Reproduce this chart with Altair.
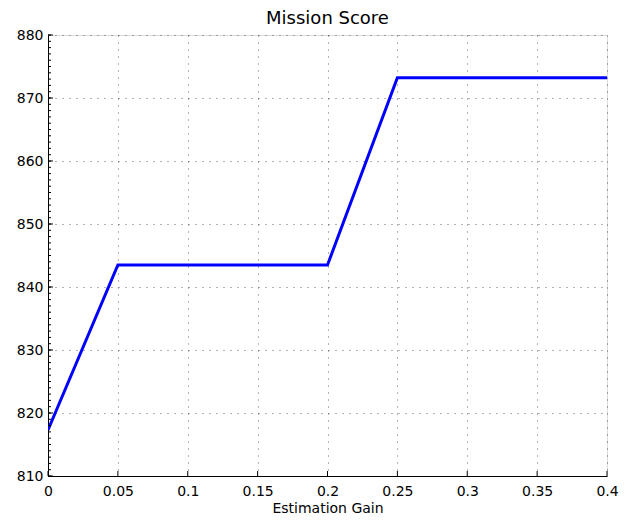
import altair as alt
import pandas as pd

gain = [0.0, 0.05, 0.1, 0.15, 0.2, 0.25, 0.3, 0.35, 0.4]
score = [817.3, 843.5, 843.5, 843.5, 843.5, 873.2, 873.2, 873.2, 873.2]
x_ticks = [0, 0.05, 0.1, 0.15, 0.2, 0.25, 0.3, 0.35, 0.4]
y_ticks = [810, 820, 830, 840, 850, 860, 870, 880]
y_minor = list(range(810, 881))

W, H = 559, 441
FONT = "DejaVu Sans"

df = pd.DataFrame({"gain": gain, "score": score})
xs = alt.Scale(domain=[0, 0.4], nice=False, zero=False)
ys = alt.Scale(domain=[810, 880], nice=False, zero=False)

xaxis = alt.Axis(values=x_ticks, title="Estimation Gain", grid=True, gridDash=[1, 6],
                 gridColor="#333333", gridOpacity=0.75, ticks=False, domainColor="black",
                 labelFont=FONT, labelFontSize=14, labelColor="black", labelPadding=8,
                 labelFlush=False,
                 titleFont=FONT, titleFontSize=14, titleFontWeight="normal", titleColor="black",
                 titlePadding=3, labelExpr="datum.value == 0 ? '0' : format(datum.value, '')")
yaxis = alt.Axis(values=y_ticks, title=None, grid=True, gridDash=[1, 6],
                 gridColor="#333333", gridOpacity=0.75, ticks=False, domainColor="black",
                 labelFont=FONT, labelFontSize=14, labelColor="black", labelPadding=5,
                 labelFlush=False)

line = alt.Chart(df).mark_line(color="#0000ff", strokeWidth=3, clip=True).encode(
    x=alt.X("gain:Q", scale=xs, axis=xaxis),
    y=alt.Y("score:Q", scale=ys, axis=yaxis),
)

ytk = alt.Chart(pd.DataFrame({"v": y_ticks})).mark_rule(color="black", strokeWidth=1).encode(
    y=alt.Y("v:Q", scale=ys), x=alt.value(0), x2=alt.value(5))
ymin = alt.Chart(pd.DataFrame({"v": y_minor})).mark_rule(color="black", strokeWidth=1).encode(
    y=alt.Y("v:Q", scale=ys), x=alt.value(0), x2=alt.value(3))
xtk = alt.Chart(pd.DataFrame({"v": x_ticks})).mark_rule(color="black", strokeWidth=1).encode(
    x=alt.X("v:Q", scale=xs), y=alt.value(H), y2=alt.value(H - 5))

chart = alt.layer(line, ymin, ytk, xtk).properties(
    width=W, height=H,
    title=alt.TitleParams("Mission Score", font=FONT, fontSize=18, fontWeight="normal",
                          color="black", offset=0),
    autosize=alt.AutoSizeParams(type="none"),
    padding={"left": 40, "top": 27, "right": 24, "bottom": 45},
).configure_view(stroke=None).configure(background="white")

chart.save("out.html", embed_options={"renderer": "svg", "actions": False})
